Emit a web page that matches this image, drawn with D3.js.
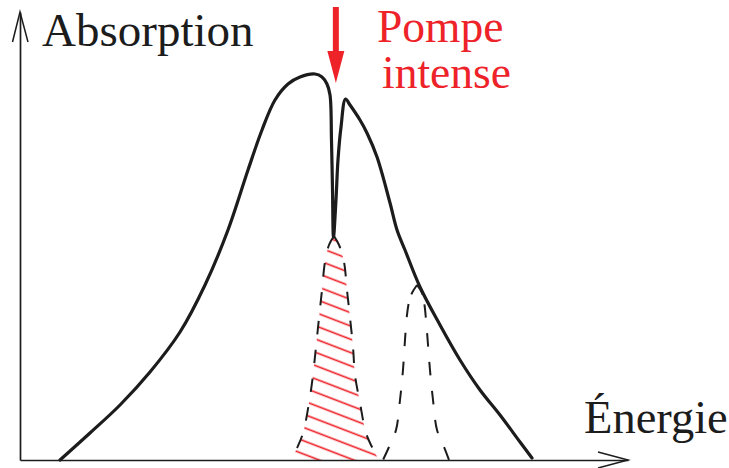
<!DOCTYPE html>
<html>
<head>
<meta charset="utf-8">
<script src="https://cdn.jsdelivr.net/npm/d3@7"></script>
<style>
  html, body { margin: 0; padding: 0; background: #fff; }
  svg { display: block; }
  text { font-family: "Liberation Serif", "Times New Roman", serif; }
</style>
</head>
<body>
<svg id="chart" width="729" height="468"></svg>
<script>
// ---------- data (energy units 0-100, absorption units 0-100) ----------
const mainEnergy = [6.58, 11.51, 16.45, 21.38, 26.32, 30.43, 34.21, 37.50, 39.80, 41.94, 44.08, 46.05, 48.52, 49.67, 50.49, 50.99, 51.23, 51.40, 51.56, 51.97, 52.30, 52.80, 53.54, 54.28, 55.92, 57.07, 58.72, 60.86, 62.01, 63.32, 65.79, 69.08, 72.37, 75.66, 78.95, 82.24, 84.21];
const mainAbsorption = [0, 6.75, 13.75, 22, 32, 43.75, 57.5, 72.5, 82.5, 90, 94, 95.75, 96.5, 95.75, 94, 91.25, 80, 67.5, 55.75, 65, 75, 83.25, 90.25, 88.75, 85, 81.75, 75.75, 64.25, 57.5, 52.5, 43.25, 33.75, 25, 17.5, 11.25, 4.5, 0.5];

const pumpedEnergy = [44.57, 45.56, 46.55, 47.53, 48.19, 48.68, 49.18, 49.67, 50.16, 50.82, 51.64, 52.47, 53.29, 53.78, 54.28, 54.77, 55.10, 55.92, 56.91, 57.89, 59.05];
const pumpedAbsorption = [0, 3, 6.75, 14.25, 21.25, 28.25, 35.5, 42.5, 49.5, 53.75, 56, 53.75, 49.5, 42.5, 35.5, 28.25, 21.25, 14.25, 6.75, 3.25, 0];

const otherEnergy = [59.70, 60.69, 61.84, 62.50, 62.99, 63.32, 63.65, 63.98, 64.47, 65.30, 66.12, 66.53, 66.78, 67.11, 67.43, 67.93, 68.59, 69.74, 70.56];
const otherAbsorption = [0, 3.25, 7.5, 15, 22.5, 30, 36.25, 39.5, 41.75, 43.75, 41.75, 38.75, 35, 28.75, 22.5, 15, 7.5, 3.25, 0];

const pumpEnergy = 51.95;        // position of the intense pump arrow
const pumpArrowFrom = 113.25;    // absorption units (top of arrow)
const pumpArrowTo = 94.25;       // absorption units (tip of arrow)

const yAxisLabel = "Absorption";
const xAxisLabel = "Énergie";
const pumpLabel = ["Pompe", "intense"];

// ---------- layout ----------
const svg = d3.select("#chart");
const black = "#1c1c1c";
const red = "#ee2229";

const x = d3.scaleLinear().domain([0, 100]).range([20, 628]);
const y = d3.scaleLinear().domain([0, 100]).range([460, 60]);
const yAxisTop = 112;

const zip = (a, b) => a.map((v, i) => [v, b[i]]);
const mainPts = zip(mainEnergy, mainAbsorption);
const pumpedPts = zip(pumpedEnergy, pumpedAbsorption);
const otherPts = zip(otherEnergy, otherAbsorption);

// hatch pattern
const theta = 21;
const spacing = 12.4;
const defs = svg.append("defs");
const pat = defs.append("pattern")
  .attr("id", "hatch")
  .attr("patternUnits", "userSpaceOnUse")
  .attr("width", 40).attr("height", spacing)
  .attr("patternTransform", `rotate(${theta})`);
pat.append("line")
  .attr("x1", -5).attr("x2", 45)
  .attr("y1", 5.2).attr("y2", 5.2)
  .attr("stroke", red).attr("stroke-width", 1.7);

const area = d3.area()
  .x(d => x(d[0])).y0(y(0)).y1(d => y(d[1]))
  .curve(d3.curveCatmullRom.alpha(0.5));
const line = d3.line()
  .x(d => x(d[0])).y(d => y(d[1]))
  .curve(d3.curveCatmullRom.alpha(0.5));

// hatched area
svg.append("path").datum(pumpedPts)
  .attr("d", area).attr("fill", "url(#hatch)");

// dashed outlines, drawn from apex outward
function dashList(first, gap) {
  const arr = [first, gap];
  for (let i = 0; i < 20; i++) arr.push(13.5, 15.5);
  return arr.join(",");
}
function drawPeak(pts, firstDash, firstGap) {
  let apex = 0;
  pts.forEach((p, i) => { if (p[1] > pts[apex][1]) apex = i; });
  const leftHalf = pts.slice(0, apex + 1).reverse();
  const rightHalf = pts.slice(apex);
  [leftHalf, rightHalf].forEach(h => {
    svg.append("path").datum(h)
      .attr("d", line)
      .attr("fill", "none")
      .attr("stroke", black)
      .attr("stroke-width", 2)
      .attr("stroke-dasharray", dashList(firstDash, firstGap));
  });
}
drawPeak(pumpedPts, 14, 15);
drawPeak(otherPts, 11, 10);

// main absorption curve
svg.append("path").datum(mainPts)
  .attr("d", line)
  .attr("fill", "none")
  .attr("stroke", black)
  .attr("stroke-width", 3.2)
  .attr("stroke-linejoin", "round")
  .attr("stroke-linecap", "round");

// axes
const yAxisScale = d3.scaleLinear().domain([0, yAxisTop]).range([y(0), y(yAxisTop)]);
const gx = svg.append("g").attr("transform", `translate(0,${y(0)})`)
  .call(d3.axisBottom(x).tickValues([]).tickSizeOuter(0));
const gy = svg.append("g").attr("transform", `translate(${x(0)},0)`)
  .call(d3.axisLeft(yAxisScale).tickValues([]).tickSizeOuter(0));
[gx, gy].forEach(g => g.select(".domain").attr("stroke", black).attr("stroke-width", 1.7));

// open arrowheads on axes
const headLen = 30, headHalf = 8;
const xTip = [x(100), y(0)];
svg.append("path")
  .attr("d", `M${xTip[0] - headLen},${xTip[1] - headHalf}L${xTip[0]},${xTip[1]}L${xTip[0] - headLen},${xTip[1] + headHalf}`)
  .attr("fill", "none").attr("stroke", black).attr("stroke-width", 1.5);
const yTip = [x(0), yAxisScale(yAxisTop)];
svg.append("path")
  .attr("d", `M${yTip[0] - headHalf + 0.5},${yTip[1] + headLen}L${yTip[0]},${yTip[1]}L${yTip[0] + headHalf},${yTip[1] + headLen}`)
  .attr("fill", "none").attr("stroke", black).attr("stroke-width", 1.5);

// pump arrow
const px = x(pumpEnergy);
const pTop = y(pumpArrowFrom), pTip = y(pumpArrowTo);
const headH = 32, headW = 8.5;
svg.append("line")
  .attr("x1", px).attr("x2", px)
  .attr("y1", pTop).attr("y2", pTip - headH + 1)
  .attr("stroke", red).attr("stroke-width", 6);
svg.append("path")
  .attr("d", `M${px - headW},${pTip - headH}L${px + headW},${pTip - headH}L${px},${pTip}Z`)
  .attr("fill", red);

// labels
svg.append("text").attr("x", 42).attr("y", 46)
  .attr("font-size", 47).attr("fill", black).text(yAxisLabel);
svg.append("text").attr("x", 584).attr("y", 433)
  .attr("font-size", 46.5).attr("fill", black).text(xAxisLabel);
svg.append("text").attr("x", 377).attr("y", 42)
  .attr("font-size", 45.5).attr("fill", red).text(pumpLabel[0]);
svg.append("text").attr("x", 382).attr("y", 88)
  .attr("font-size", 45.5).attr("fill", red).text(pumpLabel[1]);
</script>
</body>
</html>
